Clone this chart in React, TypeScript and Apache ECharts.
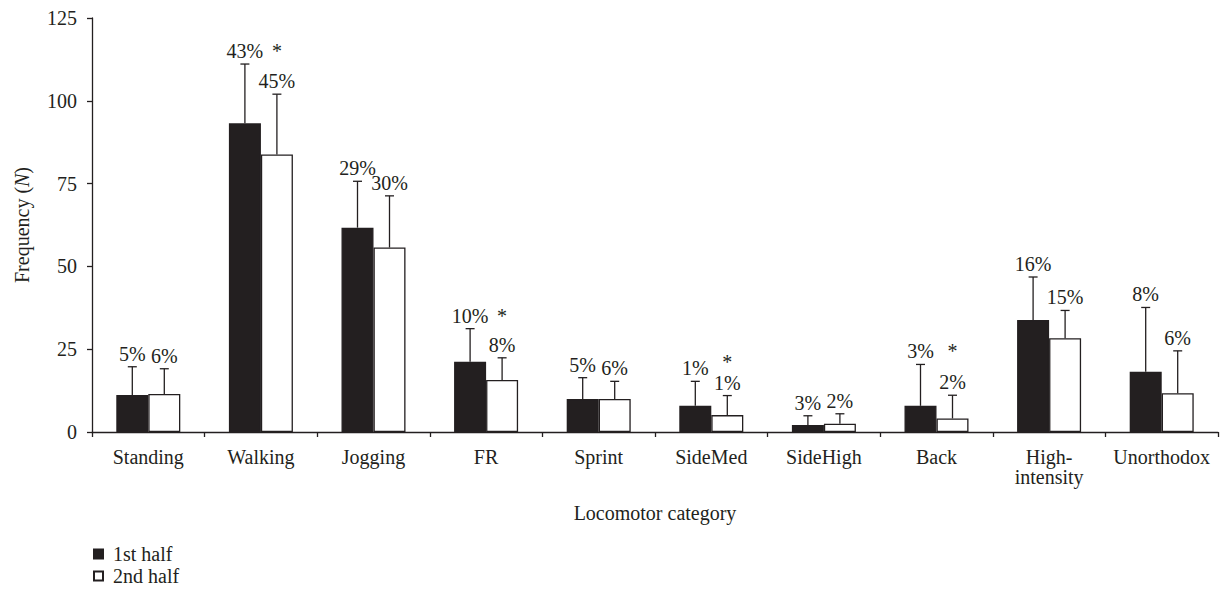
import React, { useEffect, useRef } from "react";
import * as echarts from "echarts";

const categories = ["Standing", "Walking", "Jogging", "FR", "Sprint", "SideMed", "SideHigh", "Back", "High-\nintensity", "Unorthodox"];
const firstHalf = [11.2, 93.2, 61.7, 21.2, 10.0, 7.9, 2.1, 7.9, 33.8, 18.2];
const secondHalf = [11.5, 83.8, 55.7, 15.7, 10.0, 5.1, 2.5, 4.1, 28.3, 11.7];
const firstHalfSD = [8.5, 17.9, 14.0, 10.0, 6.4, 7.4, 2.8, 12.5, 13.0, 19.4];
const secondHalfSD = [7.6, 18.2, 15.6, 6.7, 5.3, 5.9, 3.0, 7.0, 8.4, 12.8];
const firstPct = ["5%", "43%", "29%", "10%", "5%", "1%", "3%", "3%", "16%", "8%"];
const secondPct = ["6%", "45%", "30%", "8%", "6%", "1%", "2%", "2%", "15%", "6%"];
const significant = [false, true, false, true, false, true, false, true, false, false];
const yTicks = [0, 25, 50, 75, 100, 125];

const INK = "#231f20";
const FONT = "'Liberation Serif', 'Times New Roman', serif";
const FS = 20;
const BAR_W = 32;
const LABEL_GAP = 3;

function errSeries(name: string, vals: number[], sds: number[], pcts: string[], offset: number, withStar: boolean) {
  return {
    type: "custom",
    name: name + "-err",
    z: 5,
    silent: true,
    data: vals.map((v, i) => [i, v, v + sds[i]]),
    encode: { x: 0, y: [1, 2] },
    renderItem: (params: any, api: any) => {
      const idx = params.dataIndex;
      const base = api.coord([api.value(0), api.value(1)]);
      const top = api.coord([api.value(0), api.value(2)]);
      const cx = base[0] + offset;
      const children: any[] = [
        { type: "line", shape: { x1: cx, y1: base[1], x2: cx, y2: top[1] }, style: { stroke: INK, lineWidth: 1.3 } },
        { type: "line", shape: { x1: cx - 4.5, y1: top[1], x2: cx + 4.5, y2: top[1] }, style: { stroke: INK, lineWidth: 1.3 } },
        { type: "text", x: cx, y: top[1] - LABEL_GAP, style: { text: pcts[idx], fill: INK, font: FS + "px " + FONT, textAlign: "center", textVerticalAlign: "bottom" } },
      ];
      if (withStar && significant[idx]) {
        // keep the asterisk above the 2nd-half label that sits under it
        const otherTop = api.coord([idx, secondHalf[idx] + secondHalfSD[idx]])[1];
        const otherLabelTop = otherTop - LABEL_GAP - FS;
        const starY = Math.min(top[1] - LABEL_GAP - FS / 2, otherLabelTop - FS / 2 - 0.5);
        children.push({
          type: "text",
          x: cx + BAR_W,
          y: starY,
          style: { text: "*", fill: INK, font: FS + "px " + FONT, textAlign: "center", textVerticalAlign: "middle" },
        });
      }
      return { type: "group", children };
    },
  };
}

export default function App() {
  const ref = useRef<HTMLDivElement>(null);
  useEffect(() => {
    const chart = echarts.init(ref.current!, null, { renderer: "svg" });
    chart.setOption({
      animation: false,
      textStyle: { fontFamily: FONT, color: INK },
      grid: { left: 92, right: 2, top: 18, bottom: 160, containLabel: false },
      legend: {
        orient: "vertical",
        left: 93,
        top: 544,
        padding: 0,
        itemWidth: 9,
        itemHeight: 9,
        itemGap: 2,
        icon: "rect",
        data: ["1st half", "2nd half"],
        textStyle: { fontFamily: FONT, fontSize: FS, color: INK, lineHeight: 20, padding: [0, 0, 0, 5] },
      },
      xAxis: {
        type: "category",
        data: categories,
        name: "Locomotor category",
        nameLocation: "middle",
        nameGap: 71,
        nameTextStyle: { fontFamily: FONT, fontSize: FS, color: INK },
        axisLine: { lineStyle: { color: INK, width: 1.3 } },
        axisTick: { show: true, length: 5, lineStyle: { color: INK, width: 1.3 } },
        axisLabel: { fontFamily: FONT, fontSize: FS, color: INK, margin: 15, interval: 0, lineHeight: 20 },
      },
      yAxis: {
        type: "value",
        min: 0,
        max: 125,
        interval: 25,
        name: "Frequency ({i|N})",
        nameLocation: "middle",
        nameGap: 60,
        nameTextStyle: { fontFamily: FONT, fontSize: FS, color: INK, rich: { i: { fontFamily: FONT, fontSize: FS, fontStyle: "italic", color: INK } } },
        axisLine: { show: true, lineStyle: { color: INK, width: 1.3 } },
        axisTick: { show: true, length: 5, lineStyle: { color: INK, width: 1.3 } },
        axisLabel: { fontFamily: FONT, fontSize: FS, color: INK, margin: 15, formatter: (v: number) => (yTicks.includes(v) ? String(v) : "") },
        splitLine: { show: false },
      },
      series: [
        { type: "bar", name: "1st half", data: firstHalf, barWidth: BAR_W, barGap: "0%", itemStyle: { color: INK, borderColor: INK, borderWidth: 1.3 } },
        { type: "bar", name: "2nd half", data: secondHalf, barWidth: BAR_W, barGap: "0%", itemStyle: { color: "#ffffff", borderColor: INK, borderWidth: 1.3 } },
        errSeries("1st half", firstHalf, firstHalfSD, firstPct, -BAR_W / 2, true),
        errSeries("2nd half", secondHalf, secondHalfSD, secondPct, BAR_W / 2, false),
      ],
    });
    return () => chart.dispose();
  }, []);
  return <div ref={ref} style={{ width: 1220, height: 592, position: "absolute", left: 0, top: 0 }} />;
}
